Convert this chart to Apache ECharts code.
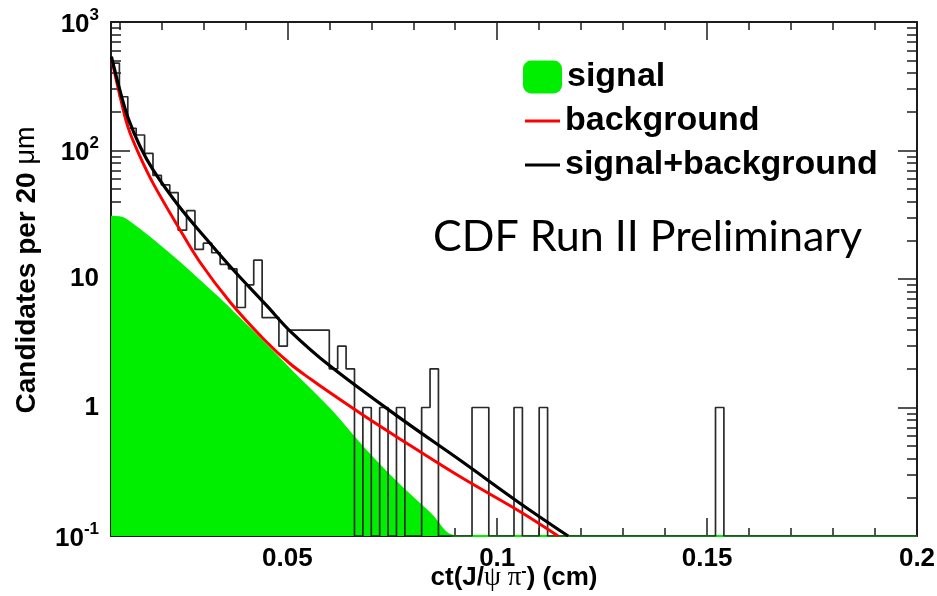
<!DOCTYPE html>
<html>
<head>
<meta charset="utf-8">
<script src="https://cdn.jsdelivr.net/npm/echarts@6/dist/echarts.min.js"></script>
<style>
  html, body { margin: 0; padding: 0; background: #fff; }
  #chart { width: 937px; height: 596px; }
</style>
</head>
<body>
<div id="chart"></div>
<script>
// ct(J/psi pi-) candidates, 20 um bins starting at 0.008 cm
const binStart = 0.008;
const binWidth = 0.002;
const candidates = [
  478, 262, 149, 132, 95, 64, 54, 47, 24, 34,
  17, 19, 16, 13, 12, 6, 9, 14, 5, 5,
  3, 4, 4, 4, 4, 4, 2, 3, 2, 0,
  1, 0, 1, 0, 1, 0, 0, 1, 2, 0,
  0, 0, 0, 1, 1, 0, 0, 0, 1, 0,
  0, 1, 0, 0, 0, 0, 0, 0, 0, 0,
  0, 0, 0, 0, 0, 0, 0, 0, 0, 0,
  0, 0, 1, 0, 0, 0, 0, 0, 0, 0,
  0, 0, 0, 0, 0, 0, 0, 0, 0, 0,
  0, 0, 0, 0, 0, 0
];

// fitted components, [ct (cm), candidates per 20 um]
const signalCurve = [
  [0.0080, 30.5], [0.0100, 30.3], [0.0115, 29], [0.0149, 24], [0.0197, 18],
  [0.0244, 13.3], [0.0292, 9.6], [0.0332, 7.3], [0.0371, 5.5], [0.0452, 3.0],
  [0.0506, 1.98], [0.0602, 0.96], [0.0680, 0.49], [0.0761, 0.26], [0.0840, 0.15],
  [0.0900, 0.1], [0.2000, 0.1]
];
const backgroundCurve = [
  [0.0082, 506], [0.0101, 268], [0.0121, 150], [0.0149, 90], [0.0181, 55],
  [0.0240, 25.5], [0.0292, 13.5], [0.0364, 6.6], [0.0444, 3.4], [0.0506, 2.2],
  [0.0557, 1.65], [0.0602, 1.3], [0.0681, 0.87], [0.0761, 0.59], [0.0911, 0.29],
  [0.1054, 0.155], [0.1145, 0.1]
];
const totalCurve = [
  [0.0081, 537], [0.0101, 296], [0.0121, 178], [0.0149, 108], [0.0181, 70],
  [0.0240, 37.5], [0.0300, 21.8], [0.0371, 11.8], [0.0451, 6.2], [0.0506, 3.95],
  [0.0602, 2.1], [0.0768, 0.83], [0.0911, 0.39], [0.1054, 0.18], [0.1169, 0.1]
];

// axes
const xMin = 0.008, xMax = 0.2;
const yMin = 0.1, yMax = 1000;
const xMajorTicks = [0.05, 0.1, 0.15, 0.2];
const xTickLabels = ['0.05', '0.1', '0.15', '0.2'];
const xMinorTicks = [0.01, 0.02, 0.03, 0.04, 0.06, 0.07, 0.08, 0.09, 0.11, 0.12,
                     0.13, 0.14, 0.16, 0.17, 0.18, 0.19];
const yMajorTicks = [0.1, 1, 10, 100, 1000];
const yTickLabels = ['{m|10}{e|-1}', '1', '10', '{m|10}{e|2}', '{m|10}{e|3}'];
const yMinorTicks = [];
[0.1, 1, 10, 100].forEach(d => { for (let k = 2; k <= 9; k++) yMinorTicks.push(+(d * k).toPrecision(3)); });

const legendNames = ['signal', 'background', 'signal+background'];
const titleText = 'CDF Run II Preliminary';

// histogram outline: one step per bin, empty bins rest on the axis floor
const histData = candidates.map((c, i) => [binStart + i * binWidth, Math.max(c, yMin)]);
histData.push([binStart + candidates.length * binWidth, Math.max(candidates[candidates.length - 1], yMin)]);

const ink = '#1c1c1c';
const sans = 'Liberation Sans';
const tickLine = { color: ink, width: 1.5 };

function pick(values, labels, v) {
  for (let i = 0; i < values.length; i++) {
    if (Math.abs(values[i] - v) <= Math.abs(values[i]) * 1e-6) return labels[i];
  }
  return '';
}

function xAxisDef(position, major) {
  const ax = {
    type: 'value', position: position, min: xMin, max: xMax,
    splitLine: { show: false },
    axisLine: { show: major, onZero: false, lineStyle: { color: ink, width: 2 } },
    axisTick: { show: true, inside: true, length: major ? 18 : 8,
                customValues: major ? xMajorTicks : xMinorTicks, lineStyle: tickLine },
    axisLabel: { show: false }
  };
  if (major && position === 'bottom') {
    ax.axisLabel = {
      show: true, customValues: xMajorTicks, margin: 10,
      formatter: v => pick(xMajorTicks, xTickLabels, v),
      fontFamily: sans, fontWeight: 'bold', fontSize: 26, color: '#000'
    };
    ax.name = '{b|ct(J/}{g|\u03c8 \u03c0}{s|-}{b|) (cm)}';
    ax.nameLocation = 'middle';
    ax.nameGap = 28;
    ax.nameMoveOverlap = false;
    ax.nameTextStyle = {
      rich: {
        b: { fontFamily: sans, fontWeight: 'bold', fontSize: 26, color: '#000' },
        g: { fontFamily: 'Liberation Serif', fontSize: 27, color: '#000' },
        s: { fontFamily: sans, fontWeight: 'bold', fontSize: 16, color: '#000', verticalAlign: 'top' }
      }
    };
  }
  return ax;
}

function yAxisDef(position, major) {
  const ax = {
    type: 'log', logBase: 10, position: position, min: yMin, max: yMax,
    splitLine: { show: false },
    axisLine: { show: major, onZero: false, lineStyle: { color: ink, width: 2 } },
    axisTick: { show: true, inside: true, length: major ? 19 : 10,
                customValues: major ? yMajorTicks : yMinorTicks, lineStyle: tickLine },
    axisLabel: { show: false }
  };
  if (major && position === 'left') {
    ax.axisLabel = {
      show: true, customValues: yMajorTicks, margin: 12,
      formatter: v => pick(yMajorTicks, yTickLabels, v),
      fontFamily: sans, fontWeight: 'bold', fontSize: 26, color: '#000',
      rich: {
        m: { fontFamily: sans, fontWeight: 'bold', fontSize: 26, color: '#000',
             lineHeight: 31, verticalAlign: 'bottom' },
        e: { fontFamily: sans, fontWeight: 'bold', fontSize: 17, color: '#000',
             lineHeight: 17, verticalAlign: 'top' }
      }
    };
    ax.name = '{b|Candidates per 20 }{u|\u03bcm}';
    ax.nameLocation = 'middle';
    ax.nameRotate = 90;
    ax.nameGap = 70;
    ax.nameMoveOverlap = false;
    ax.nameTextStyle = {
      padding: [0, 0, 0, 18],
      rich: {
        b: { fontFamily: sans, fontWeight: 'bold', fontSize: 28, color: '#000' },
        u: { fontFamily: sans, fontSize: 27, color: '#000' }
      }
    };
  }
  return ax;
}

const legendText = { fontFamily: sans, fontWeight: 'bold', fontSize: 34, color: '#000', lineHeight: 44 };

const curveSmooth = 0.35;

const chart = echarts.init(document.getElementById('chart'), null, { renderer: 'canvas' });
chart.setOption({
  animation: false,
  backgroundColor: '#fff',
  title: {
    text: titleText, left: 433, top: 216, padding: 0,
    textStyle: { fontFamily: 'Lato', fontWeight: 'normal', fontSize: 43, color: '#000' }
  },
  legend: [
    {
      data: [{ name: legendNames[0], icon: 'roundRect' }],
      left: 523, top: 55, orient: 'vertical', padding: 0,
      itemWidth: 39, itemHeight: 33, itemGap: 0, selectedMode: false,
      textStyle: legendText
    },
    {
      data: [legendNames[1], legendNames[2]], icon: 'rect',
      left: 525, top: 99, orient: 'vertical', padding: 0,
      itemWidth: 35, itemHeight: 3, itemGap: 0, selectedMode: false,
      textStyle: legendText
    }
  ],
  grid: { left: 111, right: 20, top: 22, bottom: 60, containLabel: false, outerBoundsMode: 'none' },
  xAxis: [xAxisDef('bottom', true), xAxisDef('bottom', false), xAxisDef('top', true), xAxisDef('top', false)],
  yAxis: [yAxisDef('left', true), yAxisDef('left', false), yAxisDef('right', true), yAxisDef('right', false)],
  series: [
    {
      name: legendNames[0], type: 'line', data: signalCurve,
      xAxisIndex: 0, yAxisIndex: 0, color: '#00ee00',
      smooth: curveSmooth, symbol: 'none',
      lineStyle: { color: '#00ee00', width: 2 },
      areaStyle: { color: '#00ee00', opacity: 1, origin: 'start' },
      z: 1
    },
    {
      name: 'data', type: 'line', data: histData, step: 'end',
      xAxisIndex: 0, yAxisIndex: 0, symbol: 'none',
      lineStyle: { color: '#2a2a2a', width: 1.7 },
      z: 2
    },
    {
      name: legendNames[1], type: 'line', data: backgroundCurve,
      xAxisIndex: 0, yAxisIndex: 0, color: '#ff0000',
      smooth: curveSmooth, symbol: 'none',
      lineStyle: { color: '#ff0000', width: 3 },
      z: 3
    },
    {
      name: legendNames[2], type: 'line', data: totalCurve,
      xAxisIndex: 0, yAxisIndex: 0, color: '#000000',
      smooth: curveSmooth, symbol: 'none',
      lineStyle: { color: '#000000', width: 3.2 },
      z: 4
    }
  ]
});
</script>
</body>
</html>
